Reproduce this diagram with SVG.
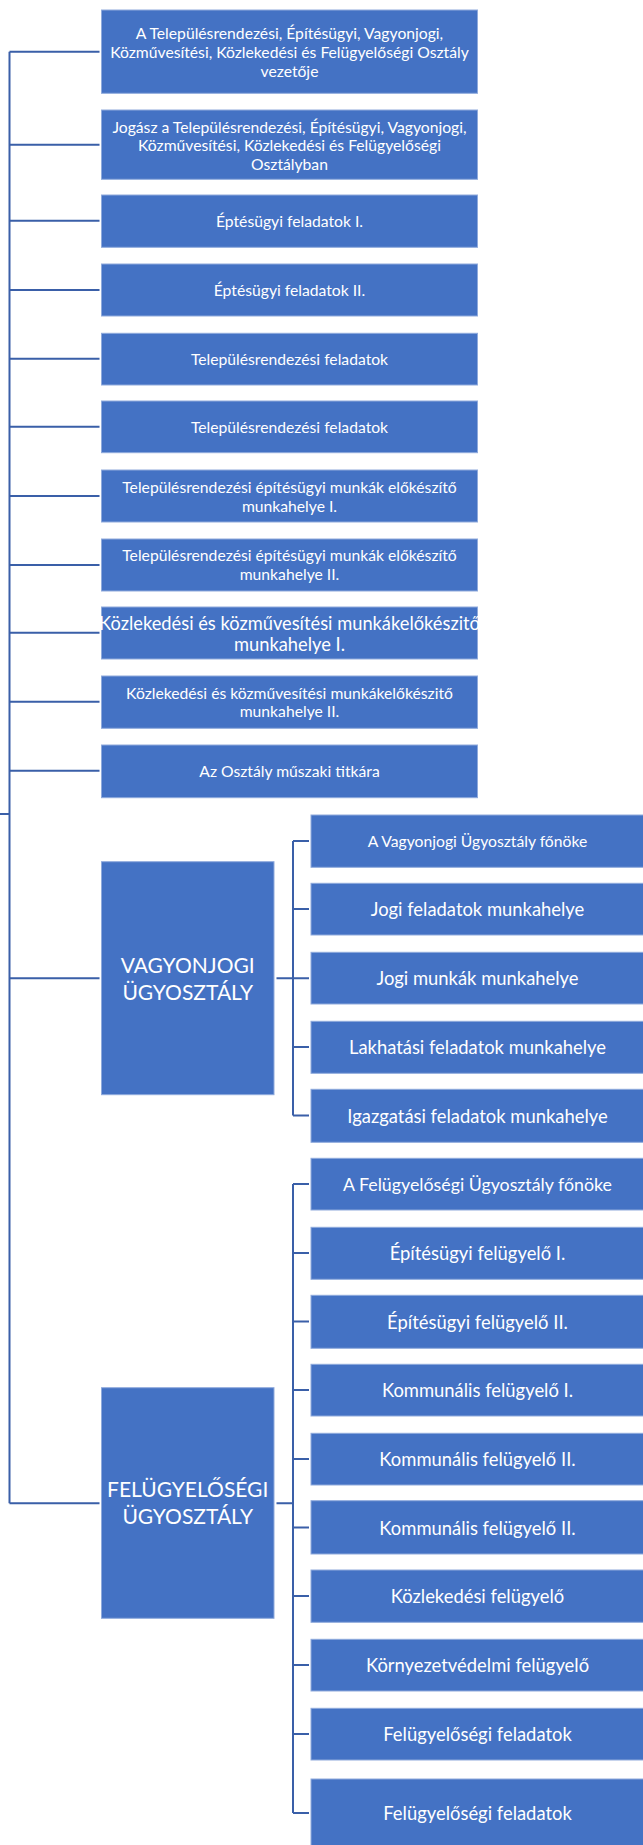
<svg xmlns="http://www.w3.org/2000/svg" width="643" height="1845" viewBox="0 0 643 1845">
<style>
.box{fill:#4472C4;stroke:#8FAADC;stroke-width:1}
.t{fill:#FFFFFF;font-family:Lato,"Liberation Sans",sans-serif;text-anchor:middle;dominant-baseline:central}
.m{font-size:15.7px}
.s{font-size:18.4px}
.l{font-size:18.3px}
.b{font-size:21px}
.c{fill:none;stroke:#3A5FA8;stroke-width:2}
</style>
<rect width="643" height="1845" fill="#FFFFFF"/>
<g id="connectors" class="c">
<path d="M9.5 51.7V1503.3M0 814H9.5"/>
<path d="M9.5 51.7H99.5M9.5 144.7H99.5M9.5 220.7H99.5M9.5 290H99.5M9.5 358.7H99.5M9.5 426.7H99.5M9.5 496H99.5M9.5 565H99.5M9.5 632.7H99.5M9.5 701.7H99.5M9.5 770.7H99.5M9.5 978.3H99.5M9.5 1503.3H99.5"/>
<path d="M276.5 978.3H293M293 841V1115.5M293 841H309M293 909H309M293 978.3H309M293 1047H309M293 1115.5H309"/>
<path d="M276.5 1503.3H293M293 1184V1813M293 1184H309M293 1253H309M293 1321.5H309M293 1390H309M293 1459H309M293 1527.5H309M293 1596H309M293 1665H309M293 1734H309M293 1813H309"/>
</g>
<g id="n1"><rect class="box" x="101.5" y="10" width="376" height="83.3"/><text class="t m" x="289.5" y="33.3">A Településrendezési, Építésügyi, Vagyonjogi,</text><text class="t m" x="289.5" y="52.3">Közművesítési, Közlekedési és Felügyelőségi Osztály</text><text class="t m" x="289.5" y="71">vezetője</text></g>
<g id="n2"><rect class="box" x="101.5" y="110" width="376" height="69.3"/><text class="t m" x="289.5" y="126.7">Jogász a Településrendezési, Építésügyi, Vagyonjogi,</text><text class="t m" x="289.5" y="145.3">Közművesítési, Közlekedési és Felügyelőségi</text><text class="t m" x="289.5" y="164">Osztályban</text></g>
<g id="n3"><rect class="box" x="101.5" y="195" width="376" height="52.3"/><text class="t m" x="289.5" y="220.7">Éptésügyi feladatok I.</text></g>
<g id="n4"><rect class="box" x="101.5" y="264" width="376" height="52"/><text class="t m" x="289.5" y="290">Éptésügyi feladatok II.</text></g>
<g id="n5"><rect class="box" x="101.5" y="333.3" width="376" height="51.7"/><text class="t m" x="289.5" y="358.7">Településrendezési feladatok</text></g>
<g id="n6"><rect class="box" x="101.5" y="401" width="376" height="51.7"/><text class="t m" x="289.5" y="426.7">Településrendezési feladatok</text></g>
<g id="n7"><rect class="box" x="101.5" y="470" width="376" height="52"/><text class="t m" x="289.5" y="486.7">Településrendezési építésügyi munkák előkészítő</text><text class="t m" x="289.5" y="506">munkahelye I.</text></g>
<g id="n8"><rect class="box" x="101.5" y="539" width="376" height="52"/><text class="t m" x="289.5" y="555">Településrendezési építésügyi munkák előkészítő</text><text class="t m" x="289.5" y="574">munkahelye II.</text></g>
<g id="n9"><rect class="box" x="101.5" y="607" width="376" height="52"/><text class="t l" x="289.5" y="622.7">Közlekedési és közművesítési munkákelőkészitő</text><text class="t l" x="289.5" y="644">munkahelye I.</text></g>
<g id="n10"><rect class="box" x="101.5" y="676" width="376" height="52.3"/><text class="t m" x="289.5" y="692.7">Közlekedési és közművesítési munkákelőkészitő</text><text class="t m" x="289.5" y="711">munkahelye II.</text></g>
<g id="n11"><rect class="box" x="101.5" y="745" width="376" height="52.7"/><text class="t m" x="289.5" y="770.7">Az Osztály műszaki titkára</text></g>
<g id="vagyon"><rect class="box" x="101.5" y="861.7" width="172.5" height="233"/><text class="t b" x="187.7" y="964">VAGYONJOGI</text><text class="t b" x="187.7" y="991">ÜGYOSZTÁLY</text></g>
<g id="v1"><rect class="box" x="311" y="815" width="334" height="52.3"/><text class="t m" x="477.5" y="841">A Vagyonjogi Ügyosztály főnöke</text></g>
<g id="v2"><rect class="box" x="311" y="883.3" width="334" height="51.7"/><text class="t s" x="477.5" y="909">Jogi feladatok munkahelye</text></g>
<g id="v3"><rect class="box" x="311" y="952.3" width="334" height="51.7"/><text class="t s" x="477.5" y="978.3">Jogi munkák munkahelye</text></g>
<g id="v4"><rect class="box" x="311" y="1021.3" width="334" height="52"/><text class="t s" x="477.5" y="1047">Lakhatási feladatok munkahelye</text></g>
<g id="v5"><rect class="box" x="311" y="1089.3" width="334" height="53"/><text class="t s" x="477.5" y="1115.5">Igazgatási feladatok munkahelye</text></g>
<g id="felugy"><rect class="box" x="101.5" y="1387.7" width="172.5" height="230.6"/><text class="t b" x="187.7" y="1488">FELÜGYELŐSÉGI</text><text class="t b" x="187.7" y="1515">ÜGYOSZTÁLY</text></g>
<g id="f1"><rect class="box" x="311" y="1158.3" width="334" height="51.7"/><text class="t" x="477.5" y="1184" font-size="17.8">A Felügyelőségi Ügyosztály főnöke</text></g>
<g id="f2"><rect class="box" x="311" y="1227.3" width="334" height="52"/><text class="t s" x="477.5" y="1253">Építésügyi felügyelő I.</text></g>
<g id="f3"><rect class="box" x="311" y="1295.3" width="334" height="53"/><text class="t s" x="477.5" y="1321.5">Építésügyi felügyelő II.</text></g>
<g id="f4"><rect class="box" x="311" y="1364.3" width="334" height="51.7"/><text class="t s" x="477.5" y="1390">Kommunális felügyelő I.</text></g>
<g id="f5"><rect class="box" x="311" y="1433.3" width="334" height="51.7"/><text class="t s" x="477.5" y="1459">Kommunális felügyelő II.</text></g>
<g id="f6"><rect class="box" x="311" y="1500.7" width="334" height="53.3"/><text class="t s" x="477.5" y="1527.5">Kommunális felügyelő II.</text></g>
<g id="f7"><rect class="box" x="311" y="1570" width="334" height="52.3"/><text class="t s" x="477.5" y="1596">Közlekedési felügyelő</text></g>
<g id="f8"><rect class="box" x="311" y="1639.3" width="334" height="51.7"/><text class="t s" x="477.5" y="1665">Környezetvédelmi felügyelő</text></g>
<g id="f9"><rect class="box" x="311" y="1708.3" width="334" height="51.7"/><text class="t s" x="477.5" y="1734">Felügyelőségi feladatok</text></g>
<g id="f10"><rect class="box" x="311" y="1779" width="334" height="70"/><text class="t s" x="477.5" y="1813">Felügyelőségi feladatok</text></g>
</svg>
